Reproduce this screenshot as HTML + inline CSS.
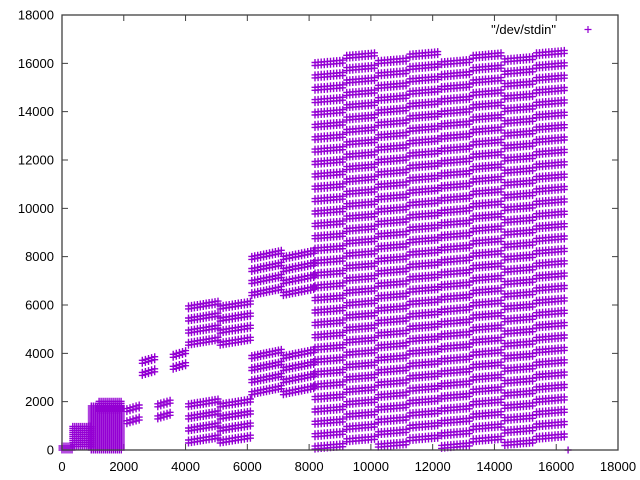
<!DOCTYPE html>
<html><head><meta charset="utf-8"><style>
body{margin:0;background:#fff;}
svg{display:block;font-family:"Liberation Sans",sans-serif;}
</style></head><body>
<svg id="chart" width="640" height="480" viewBox="0 0 640 480">
<rect width="640" height="480" fill="#fff"/>
<g id="axes"></g>
<path id="pts" fill="none" stroke="#9400d3" stroke-width="1.4"/>
<rect x="62" y="15" width="556" height="435" fill="none" stroke="#404040" stroke-width="1.3"/>
<text x="556" y="34" text-anchor="end" font-size="13" fill="#000">"/dev/stdin"</text>
<path d="M584.5,29.5h7M588,26v7" stroke="#9400d3" stroke-width="1.2"/>
</svg>
<script>
// tick values
const xTicks = [0,2000,4000,6000,8000,10000,12000,14000,16000,18000];
const yTicks = [0,2000,4000,6000,8000,10000,12000,14000,16000,18000];
// large region columns
const colX0 = [8192,9216,10240,11264,12288,13312,14336,15360];
const colYBase = [100,400,180,450,130,400,250,500];
const colStripes = [32,32,32,32,32,32,32,32];
const colStep = 512, colWidth = 900, colRise = 100;
// middle segments
const segX0 = [6144,7168,6144,7168,6144,7168,6144,7168,6144,7168,6144,7168,6144,7168,6144,7168,
               4096,5120,4096,5120,4096,5120,4096,5120,4096,5120,4096,5120,4096,5120,4096,5120,
               2600,2600,3600,3600,2100,2100,3100,3100];
const segX1 = [7100,8150,7100,8150,7100,8150,7100,8150,7100,8150,7100,8150,7100,8150,7100,8150,
               5050,6100,5050,6100,5050,6100,5050,6100,5050,6100,5050,6100,5050,6100,5050,6100,
               3000,3000,4000,4000,2500,2500,3500,3500];
const segY0 = [2350,2350,2850,2850,3350,3350,3850,3850,6450,6450,6950,6950,7450,7450,7950,7950,
               350,350,850,850,1350,1350,1850,1850,4400,4400,4900,4900,5400,5400,5900,5900,
               3150,3650,3400,3900,1150,1650,1350,1850];
const segY1 = [2600,2600,3100,3100,3600,3600,4100,4100,6700,6700,7200,7200,7700,7700,8200,8200,
               550,550,1050,1050,1550,1550,2050,2050,4600,4600,5100,5100,5600,5600,6100,6100,
               3300,3800,3550,4050,1300,1800,1500,2000];
// dense blocks
const blkX0 = [0,350,950,1200];
const blkX1 = [380,980,1950,1950];
const blkY0 = [0,150,0,1600];
const blkY1 = [220,1000,1850,2050];
// isolated points
const ptX = [16384];
const ptY = [0];

const sx = v => 62 + v*556/18000;
const sy = v => 450 - v*435/18000;
let d = [];
function mark(px,py){ d.push('M'+(px-3.5).toFixed(1)+','+py.toFixed(1)+'h7M'+px.toFixed(1)+','+(py-3.5).toFixed(1)+'v7'); }
function stripe(x0,x1,y0,y1){
  const p0=sx(x0),p1=sx(x1),q0=sy(y0),q1=sy(y1);
  const n=Math.max(1,Math.round((p1-p0)/3));
  for(let r=0;r<2;r++){
    for(let i=0;i<=n;i++){const t=i/n;mark(p0+(p1-p0)*t,q0+(q1-q0)*t+1.5-r*3);}
  }
}
for(let c=0;c<colX0.length;c++){
  for(let s=0;s<colStripes[c];s++){
    const y=colYBase[c]+s*colStep;
    stripe(colX0[c],colX0[c]+colWidth,y,y+colRise);
  }
}
for(let i=0;i<segX0.length;i++) stripe(segX0[i],segX1[i],segY0[i],segY1[i]);
for(let b=0;b<blkX0.length;b++){
  for(let py=sy(blkY0[b]);py>=sy(blkY1[b]);py-=2){
    for(let px=sx(blkX0[b]);px<=sx(blkX1[b]);px+=2) mark(px,py);
  }
}
for(let i=0;i<ptX.length;i++) mark(sx(ptX[i]),sy(ptY[i]));
document.getElementById('pts').setAttribute('d',d.join(''));

const ax=document.getElementById('axes');
const NS='http://www.w3.org/2000/svg';
function el(tag,attrs,txt){const e=document.createElementNS(NS,tag);for(const k in attrs)e.setAttribute(k,attrs[k]);if(txt!=null)e.textContent=txt;ax.appendChild(e);return e;}
xTicks.forEach(v=>{
  const x=sx(v);
  const t=el('path',{d:`M${x},450v-6M${x},15v6`,stroke:'#404040','stroke-width':1});
  
  
  const l=el('text',{x:x,y:471,'text-anchor':'middle','font-size':13,fill:'#000'},String(v));
  
  
});
yTicks.forEach(v=>{
  const y=sy(v);
  const t=el('path',{d:`M62,${y}h6M618,${y}h-6`,stroke:'#404040','stroke-width':1});
  
  
  const l=el('text',{x:54,y:y+4.5,'text-anchor':'end','font-size':13,fill:'#000'},String(v));
  
  
});
</script>
</body></html>
